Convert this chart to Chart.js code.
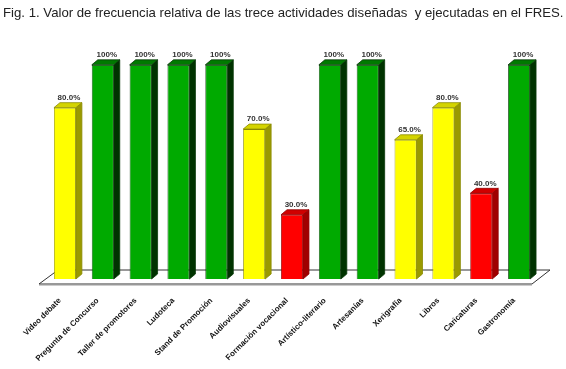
<!DOCTYPE html>
<html>
<head>
<meta charset="utf-8">
<script src="https://cdn.jsdelivr.net/npm/chart.js@4.4.1/dist/chart.umd.min.js"></script>
<style>
  html, body { margin: 0; padding: 0; background: #fff; }
  #wrap { width: 566px; height: 369px; }
</style>
</head>
<body>
<div id="wrap"><canvas id="fig1"></canvas></div>
<script>
const titulo = 'Fig. 1. Valor de frecuencia relativa de las trece actividades diseñadas  y ejecutadas en el FRES.';
const actividades = ['Video debate', 'Pregunta de Concurso', 'Taller de promotores', 'Ludoteca',
  'Stand de Promoción', 'Audiovisuales', 'Formación vocacional', 'Artístico-literario',
  'Artesanías', 'Xerigrafía', 'Libros', 'Caricaturas', 'Gastronomía'];
const frecuencia = [80, 100, 100, 100, 100, 70, 30, 100, 100, 65, 80, 40, 100];
const etiquetas = ['80.0%', '100%', '100%', '100%', '100%', '70.0%', '30.0%', '100%', '100%', '65.0%', '80.0%', '40.0%', '100%'];

// color by level
function frente(v) { return v >= 100 ? '#00aa00' : (v >= 50 ? '#ffff00' : '#ff0000'); }
function lado(v) { return v >= 100 ? '#003300' : (v >= 50 ? '#9a9a00' : '#a00000'); }
function arriba(v) { return v >= 100 ? '#007a00' : (v >= 50 ? '#d4d400' : '#d00000'); }
function borde(v) { return v >= 100 ? '#0a3a0a' : (v >= 50 ? '#8a8a00' : '#900000'); }

const DX = 6, DY = -5;

const piso = {
  id: 'piso',
  beforeDatasetsDraw(chart) {
    const a = chart.chartArea, c = chart.ctx;
    const b = a.bottom;
    c.save();
    c.beginPath();
    c.moveTo(a.left - 7, b + 5);
    c.lineTo(a.right - 6, b + 5);
    c.lineTo(a.right + 12, b - 9);
    c.lineTo(a.left + 12, b - 9);
    c.closePath();
    c.fillStyle = '#ffffff';
    c.fill();
    c.strokeStyle = '#333';
    c.lineWidth = 1;
    c.stroke();
    c.beginPath();
    c.moveTo(a.left - 7, b + 6);
    c.lineTo(a.right - 6, b + 6);
    c.strokeStyle = '#999';
    c.stroke();
    c.restore();
  },
  afterDatasetsDraw(chart) {
    const c = chart.ctx;
    const meta = chart.getDatasetMeta(0);
    c.save();
    meta.data.forEach((bar, i) => {
      const v = frecuencia[i];
      const half = bar.width / 2;
      const l = bar.x - half, r = bar.x + half, t = bar.y, bt = bar.base;
      // side
      c.beginPath();
      c.moveTo(r, t); c.lineTo(r + DX, t + DY); c.lineTo(r + DX, bt + DY); c.lineTo(r, bt);
      c.closePath();
      c.fillStyle = lado(v); c.fill();
      c.strokeStyle = borde(v); c.lineWidth = 0.8; c.stroke();
      // top
      c.beginPath();
      c.moveTo(l, t); c.lineTo(l + DX, t + DY); c.lineTo(r + DX, t + DY); c.lineTo(r, t);
      c.closePath();
      c.fillStyle = arriba(v); c.fill(); c.stroke();
      // value label
      c.fillStyle = '#333';
      c.font = 'bold 8px "Liberation Sans", Arial, sans-serif';
      c.textAlign = 'center';
      c.textBaseline = 'bottom';
      c.fillText(etiquetas[i], bar.x + 4, t - 6);
    });
    c.restore();
  }
};

new Chart(document.getElementById('fig1'), {
  type: 'bar',
  data: {
    labels: actividades,
    datasets: [{
      data: frecuencia,
      backgroundColor: frecuencia.map(frente),
      borderColor: frecuencia.map(borde),
      borderWidth: 0.8,
      categoryPercentage: 1,
      barPercentage: 0.58
    }]
  },
  options: {
    responsive: true,
    maintainAspectRatio: false,
    animation: false,
    layout: { padding: { left: 3 } },
    plugins: {
      legend: { display: false },
      tooltip: { enabled: false },
      title: {
        display: true,
        text: titulo,
        align: 'start',
        color: '#222',
        font: { family: '"Liberation Sans", Arial, sans-serif', size: 13.2, weight: 'normal' },
        padding: { top: 5, bottom: 44 }
      }
    },
    scales: {
      x: {
        grid: { display: false, drawTicks: false },
        border: { display: false },
        ticks: {
          autoSkip: false,
          minRotation: 45,
          maxRotation: 45,
          padding: 17,
          labelOffset: -5,
          color: '#111',
          font: { family: '"Liberation Sans", Arial, sans-serif', size: 8, weight: 'bold' }
        },
        afterFit(s) { s.height = 90; }
      },
      y: {
        min: 0, max: 100,
        grid: { display: false },
        border: { display: false },
        ticks: { display: false },
        afterFit(s) { s.width = 43; }
      },
      y2: {
        position: 'right',
        min: 0, max: 100,
        grid: { display: false },
        border: { display: false },
        ticks: { display: false },
        afterFit(s) { s.width = 28; }
      }
    }
  },
  plugins: [piso]
});
</script>
</body>
</html>
